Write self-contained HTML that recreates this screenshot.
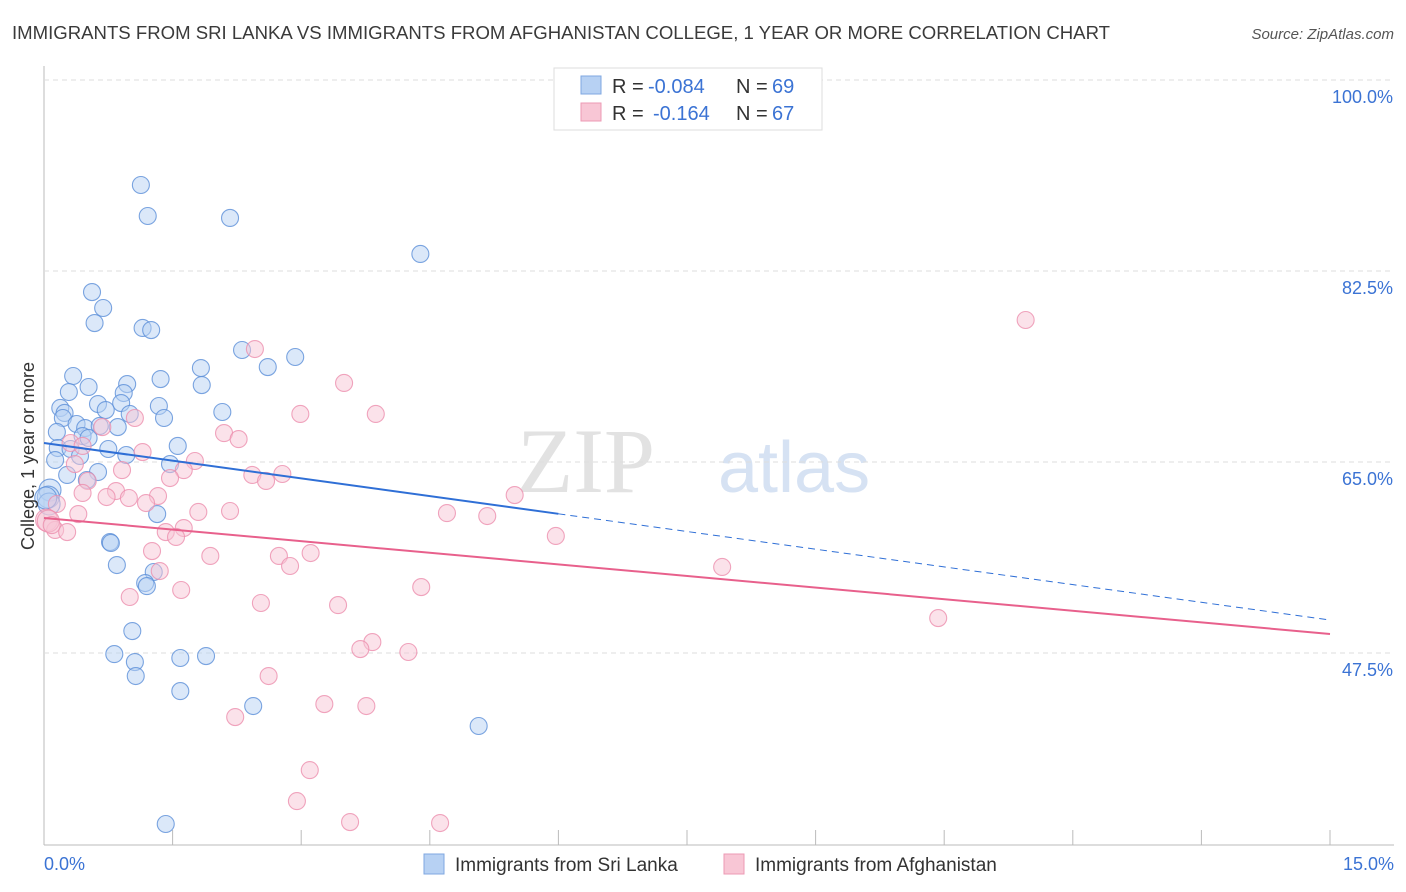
<!DOCTYPE html>
<html><head><meta charset="utf-8"><style>
body{margin:0;background:#fff;font-family:"Liberation Sans",sans-serif;}
svg{display:block}
</style></head><body>
<svg id="c" width="1406" height="892">
<text x="12" y="39" font-size="18" fill="#3a3a3a" textLength="1098" lengthAdjust="spacingAndGlyphs">IMMIGRANTS FROM SRI LANKA VS IMMIGRANTS FROM AFGHANISTAN COLLEGE, 1 YEAR OR MORE CORRELATION CHART</text>
<text x="1394" y="39" font-size="15" fill="#555" font-style="italic" text-anchor="end">Source: ZipAtlas.com</text>
<text x="655" y="492" font-size="92" fill="#e2e2e2" font-family="Liberation Serif,serif" text-anchor="end">ZIP</text>
<text x="718" y="492" font-size="72" fill="#d6e2f3">atlas</text>
<g id="grid"></g><g id="pts"></g><g id="lines"></g>
<text transform="translate(34,456) rotate(-90)" font-size="18" fill="#333" text-anchor="middle">College, 1 year or more</text>
<text x="44" y="870" font-size="18" fill="#3b73d4">0.0%</text>
<text x="1394" y="870" font-size="18" fill="#3b73d4" text-anchor="end">15.0%</text>
<g font-size="20">
<rect x="554" y="68" width="268" height="62" fill="#fff" stroke="#ddd"/>
<rect x="581" y="76" width="20" height="18" fill="#b7d1f3" stroke="#7fa7e0"/>
<rect x="581" y="103" width="20" height="18" fill="#f8c6d5" stroke="#ec9ab4"/>
<text x="612" y="93" fill="#333">R =</text><text x="648" y="93" fill="#3b73d4">-0.084</text>
<text x="736" y="93" fill="#333">N =</text><text x="772" y="93" fill="#3b73d4">69</text>
<text x="612" y="120" fill="#333">R =</text><text x="653" y="120" fill="#3b73d4">-0.164</text>
<text x="736" y="120" fill="#333">N =</text><text x="772" y="120" fill="#3b73d4">67</text>
</g>
<g>
<rect x="424" y="854" width="20" height="20" fill="#b7d1f3" stroke="#7fa7e0"/>
<text x="455" y="871" font-size="19" fill="#333">Immigrants from Sri Lanka</text>
<rect x="724" y="854" width="20" height="20" fill="#f8c6d5" stroke="#ec9ab4"/>
<text x="755" y="871" font-size="19" fill="#333">Immigrants from Afghanistan</text>
</g>
</svg>
<script>
const yTicks=[100,82.5,65,47.5];
const yTickLabels=["100.0%","82.5%","65.0%","47.5%"];
const xTicks=[0,1.5,3,4.5,6,7.5,9,10.5,12,13.5,15];
const blueX=[1.13,1.21,2.17,4.39,0.56,0.69,0.59,1.15,1.25,2.31,2.93,2.61,1.83,0.34,1.36,0.97,0.52,0.29,1.84,0.93,0.63,1.34,0.90,0.19,0.24,0.72,1.00,2.08,1.40,0.22,0.38,0.86,0.15,0.48,0.65,0.45,0.52,1.56,0.16,0.75,0.31,0.96,0.42,0.13,1.47,0.63,0.27,0.50,0.07,0.05,0.06,1.32,0.77,0.78,0.85,1.28,1.18,1.20,1.03,0.82,1.59,1.89,1.06,1.07,1.59,2.44,5.07,1.42,0.02];
const blueY=[90.38,87.54,87.36,84.06,80.57,79.11,77.73,77.28,77.09,75.26,74.62,73.70,73.61,72.88,72.60,72.14,71.87,71.41,72.05,71.32,70.31,70.13,70.40,69.95,69.49,69.76,69.40,69.58,69.03,69.03,68.48,68.20,67.75,68.11,68.30,67.38,67.20,66.47,66.28,66.19,66.19,65.64,65.55,65.18,64.81,64.08,63.81,63.35,62.43,61.79,61.15,60.23,57.67,57.58,55.56,54.92,53.91,53.63,49.51,47.40,47.04,47.22,46.67,45.39,44.01,42.64,40.81,31.83,61.70];
const pinkX=[2.46,11.45,3.50,3.87,2.99,1.06,2.10,2.27,0.68,0.31,0.45,1.15,1.76,1.63,0.36,0.91,1.47,2.43,2.78,2.59,0.51,0.45,0.84,0.73,0.99,1.33,1.19,5.49,0.15,0.40,2.17,1.80,4.70,5.17,1.42,1.63,1.54,0.03,0.13,0.27,5.97,1.26,1.94,2.74,3.11,2.87,1.35,7.91,4.40,1.60,1.00,2.53,3.43,10.43,3.83,3.69,4.25,2.62,3.27,3.76,2.23,3.10,2.95,3.57,4.62,0.05,0.09];
const pinkY=[75.35,78.01,72.24,69.40,69.40,69.03,67.65,67.10,68.20,66.74,66.47,65.91,65.09,64.26,64.81,64.26,63.53,63.81,63.90,63.26,63.26,62.16,62.34,61.79,61.70,61.88,61.24,61.97,61.15,60.23,60.51,60.42,60.32,60.05,58.58,58.95,58.13,59.68,58.77,58.58,58.22,56.84,56.39,56.39,56.66,55.47,55.01,55.38,53.54,53.27,52.63,52.08,51.89,50.70,48.50,47.86,47.59,45.39,42.82,42.64,41.63,36.77,33.93,32.01,31.92,59.59,59.22];
const blueTrend=[66.74,50.52];
const pinkTrend=[59.87,49.24];
const X=v=>44+v/15*1286;
const Y=v=>80+(100-v)*10.914;
const NS="http://www.w3.org/2000/svg";
function mk(t,a,p){const e=document.createElementNS(NS,t);for(const k in a)e.setAttribute(k,a[k]);p.appendChild(e);return e;}
const grid=document.getElementById('grid'),pts=document.getElementById('pts'),lines=document.getElementById('lines');
mk('line',{x1:44,y1:66,x2:44,y2:845,stroke:'#bbb'},grid);
mk('line',{x1:44,y1:845,x2:1394,y2:845,stroke:'#bbb'},grid);
yTicks.forEach((t,i)=>{
const l=mk('line',{x1:44,y1:Y(t),x2:1394,y2:Y(t),stroke:'#ddd','stroke-dasharray':'5,4'},grid);


const tx=mk('text',{x:1393,y:Y(t)+23,'font-size':18,fill:'#3b73d4','text-anchor':'end'},grid);
tx.textContent=yTickLabels[i];


});
xTicks.forEach(t=>{
const l=mk('line',{x1:X(t),y1:830,x2:X(t),y2:845,stroke:'#bbb'},grid);


});
function draw(xs,ys,fill,stroke,name){
xs.forEach((x,i)=>{
const r=x<0.08?11:8.5;
const c=mk('circle',{cx:X(x),cy:Y(ys[i]),r:r,fill:fill,'fill-opacity':0.5,stroke:stroke,'stroke-width':1.1,'stroke-opacity':0.8},pts);


});
}
draw(blueX,blueY,'#b7d1f3','#5b8fd8','sri-lanka-point');
draw(pinkX,pinkY,'#f8c6d5','#ec8fae','afghanistan-point');
const b1=mk('line',{x1:X(0),y1:Y(blueTrend[0]),x2:X(6),y2:Y(blueTrend[0]+(blueTrend[1]-blueTrend[0])*6/15),stroke:'#2f6fd6','stroke-width':2},lines);


const b2=mk('line',{x1:X(6),y1:Y(blueTrend[0]+(blueTrend[1]-blueTrend[0])*6/15),x2:X(15),y2:Y(blueTrend[1]),stroke:'#2f6fd6','stroke-width':1,'stroke-dasharray':'7,5'},lines);


const p1=mk('line',{x1:X(0),y1:Y(pinkTrend[0]),x2:X(15),y2:Y(pinkTrend[1]),stroke:'#e8608c','stroke-width':2},lines);


</script>
</body></html>
